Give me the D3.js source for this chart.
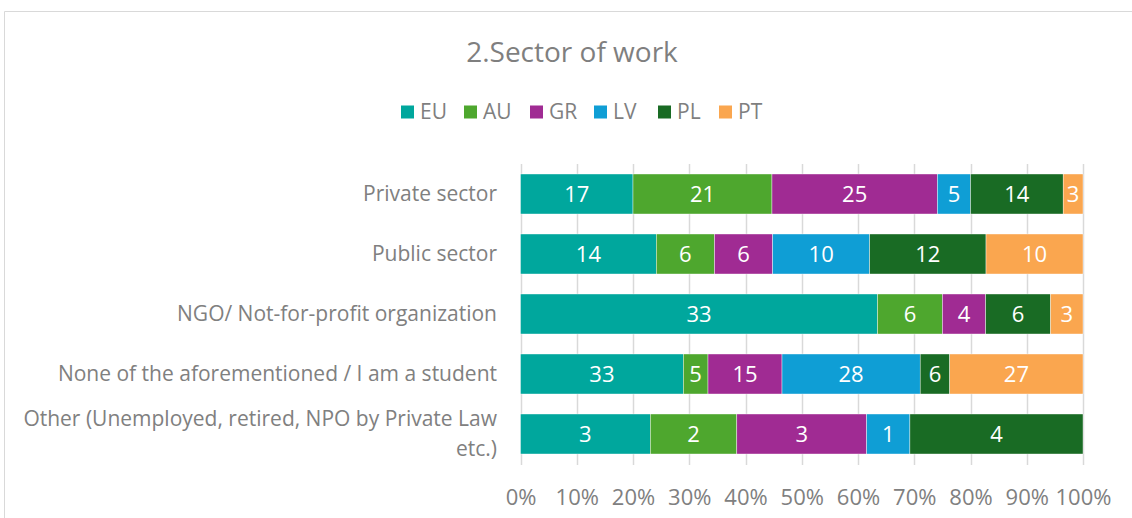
<!DOCTYPE html>
<html lang="en">
<head>
<meta charset="utf-8">
<script src="https://d3js.org/d3.v7.min.js"></script>
<style type="text/css">
body {
  margin: 0;
  background-color: #ffffff;
  font-family: "Open Sans", sans-serif;
}
.axis text {
  fill: #808080;
}
</style>
</head>
<body>
<script type="text/javascript">

// Chart data
var categories = [
  "Private sector",
  "Public sector",
  "NGO/ Not-for-profit organization",
  "None of the aforementioned / I am a student",
  "Other (Unemployed, retired, NPO by Private Law|etc.)"
];
var seriesNames = ["EU", "AU", "GR", "LV", "PL", "PT"];
var seriesColors = ["#00A79D", "#4EA72E", "#A02B93", "#0F9ED5", "#196B24", "#FAA64F"];
var EU = [17, 14, 33, 33, 3];
var AU = [21, 6, 6, 5, 2];
var GR = [25, 6, 4, 15, 3];
var LV = [5, 10, 0, 28, 1];
var PL = [14, 12, 6, 6, 4];
var PT = [3, 10, 3, 27, 0];
var tickValues = [0, 0.1, 0.2, 0.3, 0.4, 0.5, 0.6, 0.7, 0.8, 0.9, 1];

var width = 1132, height = 518;

var svg = d3.select("body")
  .append("svg")
  .attr("width", width)
  .attr("height", height);

// chart border (left and top visible)
svg.append("path")
  .attr("d", "M4.5," + height + "V11.5H" + width)
  .attr("fill", "none")
  .attr("stroke", "#d9d9d9")
  .attr("stroke-width", 1);

// title
svg.append("text")
  .attr("x", 572)
  .attr("y", 52)
  .attr("dy", "0.35em")
  .attr("text-anchor", "middle")
  .style("font-size", "28px")
  .style("fill", "#7f7f7f")
  .text("2.Sector of work");

// build table
var table = categories.map(function(c, i) {
  var row = { cat: c };
  var vals = [EU[i], AU[i], GR[i], LV[i], PL[i], PT[i]];
  var total = d3.sum(vals);
  seriesNames.forEach(function(s, j) {
    row[s] = vals[j] / total;
    row[s + "_n"] = vals[j];
  });
  return row;
});

var stack = d3.stack().keys(seriesNames);
var stacked = stack(table);

var x = d3.scaleLinear().domain([0, 1]).range([520.5, 1083]);
var y = d3.scaleBand()
  .domain(categories)
  .range([164, 464])
  .paddingInner(1 / 3)
  .paddingOuter(1 / 6);

// gridlines
svg.append("g")
  .selectAll("line")
  .data(tickValues)
  .enter()
  .append("line")
  .attr("x1", function(d) { return Math.round(x(d)) + 0.5; })
  .attr("x2", function(d) { return Math.round(x(d)) + 0.5; })
  .attr("y1", 164)
  .attr("y2", 465)
  .attr("stroke", "#d9d9d9")
  .attr("stroke-width", 1.5);

// bars
var layer = svg.append("g")
  .selectAll("g")
  .data(stacked)
  .enter()
  .append("g")
  .attr("fill", function(d, i) { return seriesColors[i]; });

layer.selectAll("rect")
  .data(function(d) { return d.map(function(p) { p.key = d.key; return p; }); })
  .enter()
  .append("rect")
  .attr("x", function(d) { return x(d[0]); })
  .attr("width", function(d) { return x(d[1]) - x(d[0]); })
  .attr("y", function(d) { return y(d.data.cat); })
  .attr("height", y.bandwidth())
  .attr("stroke", "#ffffff")
  .attr("stroke-width", 0.4);

// value labels
layer.selectAll("text")
  .data(function(d) { return d.filter(function(p) { return p.data[p.key + "_n"] > 0; }); })
  .enter()
  .append("text")
  .attr("x", function(d) { return (x(d[0]) + x(d[1])) / 2; })
  .attr("y", function(d) { return y(d.data.cat) + y.bandwidth() / 2; })
  .attr("dy", "0.36em")
  .attr("text-anchor", "middle")
  .style("font-size", "22px")
  .style("fill", "#ffffff")
  .text(function(d) { return d.data[d.key + "_n"]; });

// category labels
var catG = svg.append("g").attr("class", "axis");
categories.forEach(function(c) {
  var lines = c.split("|");
  var cy = y(c) + y.bandwidth() / 2;
  var lh = 30;
  var t = catG.append("text")
    .attr("text-anchor", "end")
    .style("font-size", "21px");
  lines.forEach(function(l, k) {
    t.append("tspan")
      .attr("x", 497)
      .attr("y", cy + (k - (lines.length - 1) / 2) * lh)
      .attr("dy", "0.35em")
      .text(l);
  });
});

// x axis
var xAxis = d3.axisBottom(x)
  .tickValues(tickValues)
  .tickFormat(d3.format(".0%"))
  .tickSize(0)
  .tickPadding(0);

var xg = svg.append("g")
  .attr("class", "axis")
  .attr("transform", "translate(0,497)")
  .call(xAxis);
xg.select(".domain").remove();
xg.selectAll("text")
  .attr("dy", "0.35em")
  .attr("y", 0)
  .style("font-size", "22px")
  .style("font-family", "Open Sans, sans-serif");

// legend
var legend = svg.append("g").attr("transform", "translate(0,112)");
var legX = [401, 464, 530, 594, 658, 719];
seriesNames.forEach(function(s, i) {
  var g = legend.append("g").attr("transform", "translate(" + legX[i] + ",0)");
  g.append("rect")
    .attr("x", 0)
    .attr("y", -6.5)
    .attr("width", 13)
    .attr("height", 13)
    .attr("fill", seriesColors[i]);
  g.append("text")
    .attr("x", 19)
    .attr("y", 0)
    .attr("dy", "0.35em")
    .style("font-size", "21px")
    .style("fill", "#7f7f7f")
    .text(s);
});

</script>
</body>
</html>
